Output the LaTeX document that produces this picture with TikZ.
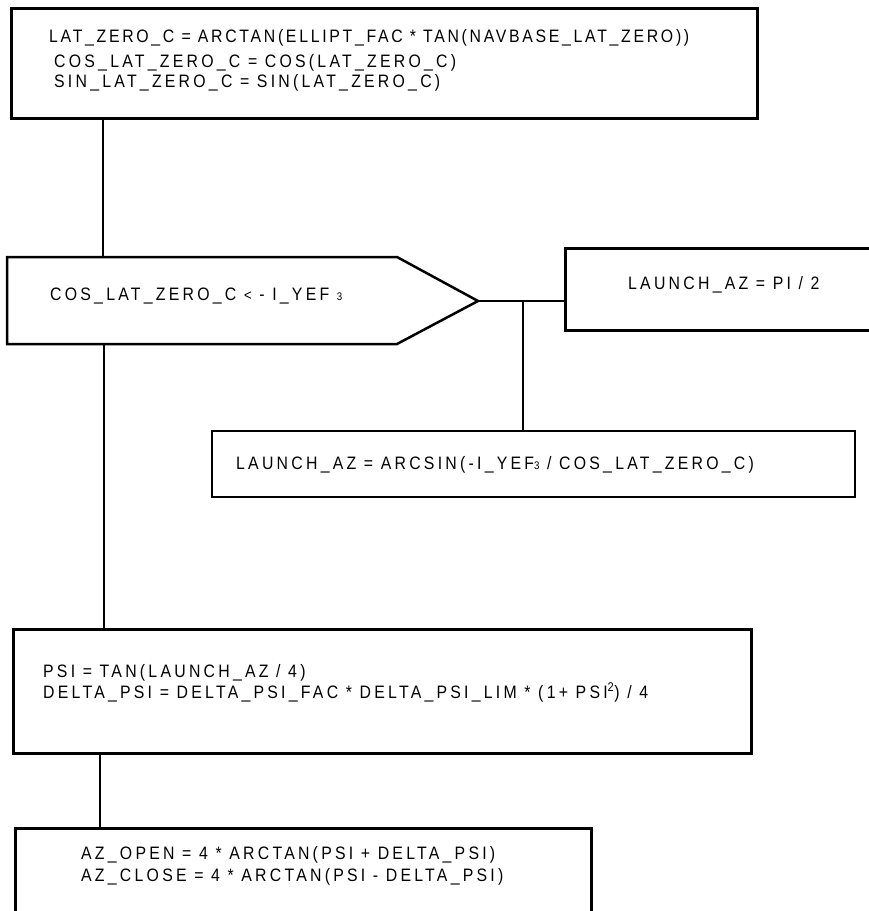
\documentclass[tikz,border=0pt]{standalone}
\usepackage{fontspec}
\newfontfamily\flowfont{Liberation Sans}[LetterSpace=18,FakeStretch=0.88]
\newfontfamily\flowfontnarrow{Liberation Sans}[LetterSpace=15,FakeStretch=0.88]
\newcommand{\smallidx}[1]{{\fontsize{11}{11}\selectfont #1}}
\tikzset{
    flowbox/.style={draw, line width=2.5pt, inner sep=0pt, anchor=north west},
    wire/.style={line width=2pt},
    flowtext/.style={inner sep=0pt, anchor=base west, font=\flowfont\fontsize{18}{20}\selectfont},
}

\begin{document}
\begin{tikzpicture}[x=1pt,y=-1pt]
    \useasboundingbox (0,0) rectangle (869,911);

    \node[flowbox, minimum width=746pt, minimum height=110pt] (init) at (10,7) {};
    \node[flowtext, font=\flowfontnarrow\fontsize{18}{20}\selectfont] (init-l1) at (49,42) {LAT\_ZERO\_C = ARCTAN(ELLIPT\_FAC * TAN(NAVBASE\_LAT\_ZERO))};
    \node[flowtext] (init-l2) at (54,67) {COS\_LAT\_ZERO\_C = COS(LAT\_ZERO\_C)};
    \node[flowtext] (init-l3) at (54,87) {SIN\_LAT\_ZERO\_C = SIN(LAT\_ZERO\_C)};

    \coordinate (cnd-nw) at (7,257);
    \coordinate (cnd-ne) at (397,257);
    \coordinate (tip) at (478,301);
    \coordinate (cnd-se) at (397,344);
    \coordinate (cnd-sw) at (7,344);
    \draw[line width=2.5pt] (cnd-nw) -- (cnd-ne) -- (tip) -- (cnd-se) -- (cnd-sw) -- cycle;
    \node[flowtext] (cnd-text) at (50,300) {COS\_LAT\_ZERO\_C {\fontsize{15}{15}\selectfont <} - I\_YEF \smallidx{3}};

    \node[flowbox, minimum width=310pt, minimum height=82pt] (launch) at (564,247) {};
    \node[flowtext] (launch-l1) at (628,289) {LAUNCH\_AZ = PI / 2};

    \node[flowbox, line width=2.2pt, minimum width=643pt, minimum height=66pt] (arcsin) at (211,430) {};
    \node[flowtext] (arcsin-l1) at (236,469) {LAUNCH\_AZ = ARCSIN(-I\_YEF\smallidx{3} / COS\_LAT\_ZERO\_C)};

    \node[flowbox, minimum width=738pt, minimum height=124pt] (psi) at (12,628) {};
    \node[flowtext] (psi-l1) at (43,677) {PSI = TAN(LAUNCH\_AZ / 4)};
    \node[flowtext] (psi-l2) at (43,698) {DELTA\_PSI = DELTA\_PSI\_FAC * DELTA\_PSI\_LIM * (1+ PSI\textsuperscript{2}) / 4};

    \node[flowbox, minimum width=576pt, minimum height=100pt] (az) at (14,827) {};
    \node[flowtext] (az-l1) at (81,859) {AZ\_OPEN = 4 * ARCTAN(PSI + DELTA\_PSI)};
    \node[flowtext] (az-l2) at (81,881) {AZ\_CLOSE = 4 * ARCTAN(PSI - DELTA\_PSI)};

    \coordinate (cnd-n) at (103,257);
    \coordinate (cnd-s) at (104,344);
    \coordinate (fork) at (523,301);
    \draw[wire] (init.south -| cnd-n) -- (cnd-n);
    \draw[wire] (cnd-s) -- (cnd-s |- psi.north);
    \draw[wire] (tip) -- (tip -| launch.west);
    \draw[wire] (fork) -- (fork |- arcsin.north);
    \draw[wire] ([xshift=88pt]psi.south west) -- ([xshift=86pt]az.north west);
\end{tikzpicture}
\end{document}
